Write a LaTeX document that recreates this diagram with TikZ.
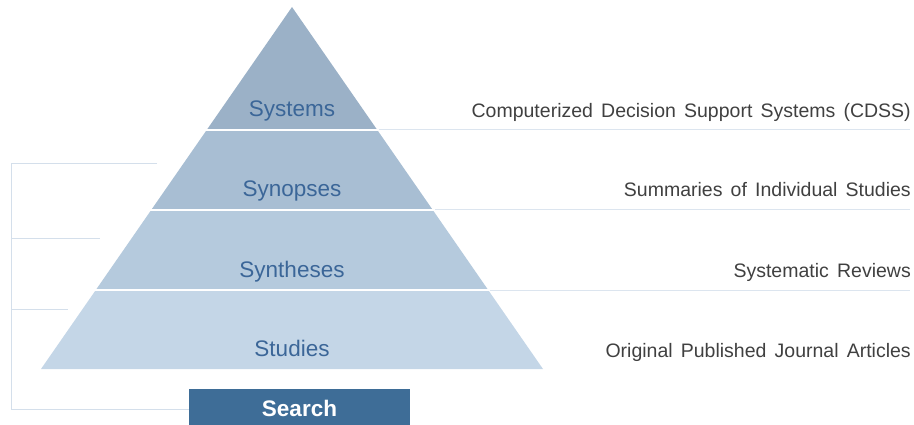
\documentclass[tikz,border=0pt]{standalone}
\usepackage{fontspec}
\setmainfont{Liberation Sans}
\definecolor{bandA}{RGB}{155,177,199}
\definecolor{bandB}{RGB}{168,190,211}
\definecolor{bandC}{RGB}{181,202,221}
\definecolor{bandD}{RGB}{196,214,231}
\definecolor{lvltext}{RGB}{59,102,152}
\definecolor{desctext}{RGB}{64,64,64}
\definecolor{searchblue}{RGB}{62,109,151}
\definecolor{guide}{RGB}{220,229,239}
\definecolor{bracket}{RGB}{212,223,235}
\newcommand\widespaces{\fontdimen2\font=0.42em\relax}
\tikzset{
  lvl/.style={anchor=base, text=lvltext, font=\fontsize{22.5}{27}\selectfont, inner sep=0pt},
  desc/.style={anchor=base east, text=desctext, font=\fontsize{19.5}{24}\selectfont, inner sep=0pt},
  guideline/.style={draw=guide, line width=1pt},
  bracketline/.style={draw=bracket, line width=1pt},
  gap/.style={draw=white, line width=2pt},
}
\begin{document}
\begin{tikzpicture}[x=1pt,y=-1pt]
\useasboundingbox (0,0) rectangle (914,425);
% pyramid coordinates
\coordinate (apex) at (292,7);
\coordinate (L1) at (206.7,130); \coordinate (R1) at (377.3,130);
\coordinate (L2) at (151.2,210); \coordinate (R2) at (432.8,210);
\coordinate (L3) at (95.8,290);  \coordinate (R3) at (488.2,290);
\coordinate (L4) at (41,369);    \coordinate (R4) at (543,369);
% bands
\fill[bandA] (apex) -- (R1) -- (L1) -- cycle;
\fill[bandB] (L1) -- (R1) -- (R2) -- (L2) -- cycle;
\fill[bandC] (L2) -- (R2) -- (R3) -- (L3) -- cycle;
\fill[bandD] (L3) -- (R3) -- (R4) -- (L4) -- cycle;
% right guide lines
\coordinate (E1) at (910,130);
\coordinate (E2) at (910,210);
\coordinate (E3) at (910,290);
\draw[guideline] (R1) -- (E1);
\draw[guideline] (R2) -- (E2);
\draw[guideline] (R3) -- (E3);
% white gaps between bands
\draw[gap] ([xshift=-2pt]L1) -- ([xshift=2pt]R1);
\draw[gap] ([xshift=-2pt]L2) -- ([xshift=2pt]R2);
\draw[gap] ([xshift=-2pt]L3) -- ([xshift=2pt]R3);
% level labels
\node[lvl] (systems) at (292,117) {Systems};
\node[lvl] (synopses) at (292,197) {Synopses};
\node[lvl] (syntheses) at (292,277) {Syntheses};
\node[lvl] (studies) at (292,356) {Studies};
% descriptions
\node[desc] (d1) at (911,118) {\widespaces Computerized Decision Support Systems (CDSS)};
\node[desc] (d2) at (911,197) {\widespaces Summaries of Individual Studies};
\node[desc] (d3) at (911,277) {\widespaces Systematic Reviews};
\node[desc] (d4) at (911,357) {\widespaces Original Published Journal Articles};
% search box
\node[fill=searchblue, draw=none, minimum width=221pt, minimum height=38pt, inner sep=0pt, anchor=north west] (search) at (189,389) {};
\node[anchor=base, text=white, font=\bfseries\fontsize{22.5}{27}\selectfont, inner sep=0pt] (searchlbl) at (299.5,416) {Search};
% left bracket
\coordinate (b0) at (11.5,164);
\coordinate (b0e) at (157,164);
\coordinate (b1) at (11.5,239);
\coordinate (b1e) at (100,239);
\coordinate (b2) at (11.5,309);
\coordinate (b2e) at (68,309);
\coordinate (b3) at (11.5,409);
\draw[bracketline] (b0e) -- (b0) -- (b3) -- (search.west |- b3);
\draw[bracketline] (b1) -- (b1e);
\draw[bracketline] (b2) -- (b2e);
\end{tikzpicture}
\end{document}
